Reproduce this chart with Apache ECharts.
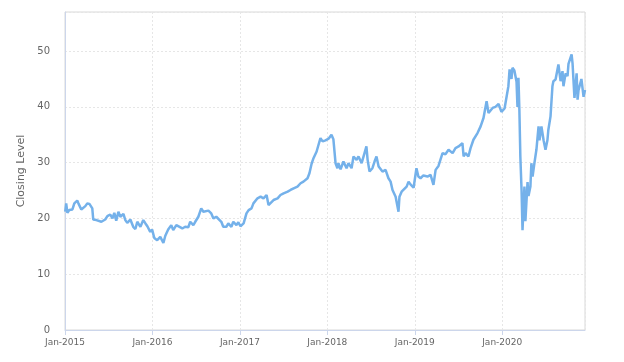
<!DOCTYPE html>
<html>
<head>
<meta charset="utf-8">
<script src="https://cdn.jsdelivr.net/npm/echarts@6/dist/echarts.min.js"></script>
<style>html,body{margin:0;padding:0;background:#fff}#c{width:624px;height:362px}</style>
</head>
<body>
<div id="c"></div>
<script>
var dates = [
"2015-01-02","2015-01-06","2015-01-11","2015-01-19","2015-02-01","2015-02-09","2015-02-21","2015-02-26","2015-03-10","2015-03-18","2015-03-27","2015-04-04","2015-04-13","2015-04-25","2015-04-29","2015-05-12","2015-05-20","2015-06-02","2015-06-10","2015-06-18","2015-06-27","2015-07-09","2015-07-18","2015-07-26","2015-08-03","2015-08-12","2015-08-20","2015-09-02","2015-09-10","2015-09-18","2015-10-01","2015-10-13","2015-10-22","2015-10-30","2015-11-12","2015-11-24","2015-12-03","2015-12-11","2015-12-23","2015-12-31",
"2016-01-09","2016-01-21","2016-02-03","2016-02-16","2016-02-24","2016-03-07","2016-03-20","2016-03-28","2016-04-10","2016-04-18","2016-05-05","2016-05-17","2016-05-30","2016-06-07","2016-06-20","2016-06-28","2016-07-11","2016-07-23","2016-08-01","2016-08-09","2016-08-22","2016-09-03","2016-09-12","2016-09-24","2016-10-02","2016-10-15","2016-10-23","2016-11-05","2016-11-13","2016-11-26","2016-12-04","2016-12-17","2016-12-25",
"2017-01-03","2017-01-16","2017-01-28","2017-02-06","2017-02-18","2017-02-26","2017-03-15","2017-03-28","2017-04-09","2017-04-22","2017-04-30","2017-05-08","2017-05-21","2017-06-07","2017-06-19","2017-07-02","2017-07-19","2017-07-31","2017-08-13","2017-08-29","2017-09-11","2017-09-23","2017-10-10","2017-10-18","2017-10-27","2017-11-04","2017-11-17","2017-11-25","2017-12-03","2017-12-12","2017-12-24",
"2018-01-06","2018-01-18","2018-01-26","2018-02-04","2018-02-12","2018-02-16","2018-02-25","2018-03-09","2018-03-22","2018-03-30","2018-04-12","2018-04-20","2018-05-03","2018-05-11","2018-05-24","2018-06-05","2018-06-13","2018-06-18","2018-06-26","2018-07-08","2018-07-17","2018-07-25","2018-08-03","2018-08-11","2018-08-19","2018-09-01","2018-09-13","2018-09-22","2018-09-30","2018-10-13","2018-10-25","2018-10-29","2018-11-07","2018-11-15","2018-11-28","2018-12-06","2018-12-14","2018-12-27",
"2019-01-08","2019-01-16","2019-01-25","2019-02-06","2019-02-23","2019-03-08","2019-03-20","2019-03-29","2019-04-10","2019-04-27","2019-05-09","2019-05-22","2019-06-08","2019-06-20","2019-07-03","2019-07-19","2019-07-24","2019-08-01","2019-08-13","2019-08-22","2019-09-03","2019-09-20","2019-10-03","2019-10-15","2019-10-28","2019-11-05","2019-11-22","2019-12-04","2019-12-17","2019-12-29",
"2020-01-11","2020-01-27","2020-02-01","2020-02-09","2020-02-13","2020-02-21","2020-03-01","2020-03-05","2020-03-09","2020-03-13","2020-03-17","2020-03-22","2020-03-26","2020-04-03","2020-04-07","2020-04-16","2020-04-20","2020-04-28","2020-05-02","2020-05-07","2020-05-15","2020-05-23","2020-06-01","2020-06-05","2020-06-13","2020-06-22","2020-06-30","2020-07-08","2020-07-12","2020-07-21","2020-07-29","2020-08-02","2020-08-11","2020-08-23","2020-09-01","2020-09-09","2020-09-13","2020-09-22","2020-09-30","2020-10-04","2020-10-17","2020-10-21","2020-10-29","2020-11-07","2020-11-11","2020-11-15","2020-11-27","2020-12-06","2020-12-12"
];
var closing = [
21.2,22.7,21.0,21.5,21.6,22.7,23.2,22.7,21.6,21.5,22.2,22.7,22.6,21.8,19.8,19.7,19.9,19.4,19.2,19.8,20.4,20.7,20.0,21.0,19.6,21.2,20.3,20.8,19.7,19.2,19.8,18.5,18.1,19.4,18.5,19.7,19.1,18.6,17.6,18.0,
16.5,16.1,16.7,15.6,16.9,18.0,18.8,17.9,18.8,19.1,18.2,18.5,18.4,19.4,18.8,19.4,20.3,21.8,21.2,21.5,21.4,20.9,20.0,20.3,20.0,19.4,18.5,18.5,19.1,18.5,19.4,18.8,19.3,
18.6,19.1,20.9,21.5,21.8,22.7,23.6,23.9,23.6,24.2,22.4,22.7,23.3,23.6,24.2,24.5,24.8,25.1,25.4,25.7,26.3,26.6,27.2,28.1,29.8,30.8,32.0,33.2,34.4,33.8,34.0,
34.3,35.0,34.2,29.9,29.0,29.9,28.8,30.2,29.0,29.9,29.0,31.1,30.5,31.1,29.9,31.7,32.9,30.5,28.4,29.0,30.2,31.1,29.3,29.6,28.4,28.7,27.2,26.6,25.1,23.9,21.2,23.9,24.8,25.1,25.7,26.6,26.1,25.5,
29.0,27.5,27.2,27.7,27.5,27.8,26.0,28.7,29.4,31.7,31.5,32.3,31.7,32.6,32.9,33.5,31.1,31.7,31.1,32.6,34.1,35.3,36.5,38.0,41.0,38.9,39.8,40.0,40.5,39.1,
39.7,43.7,46.7,45.0,47.0,46.5,44.5,40.0,45.2,39.3,31.0,25.1,17.9,25.7,19.5,26.5,24.0,25.7,29.9,27.5,30.0,32.3,36.5,34.0,36.5,34.0,32.3,34.0,35.9,38.3,43.7,44.6,44.9,47.6,44.6,46.4,43.7,46.0,45.5,47.7,49.4,47.8,41.6,46.0,41.3,43.0,45.0,41.8,43.0
];
var yTicks = [0, 10, 20, 30, 40, 50];
var yTitle = "Closing Level";

var DAY = 86400000;
var seriesData = dates.map(function (d, i) {
  var p = d.split('-');
  return [Date.UTC(+p[0], +p[1] - 1, +p[2]), closing[i]];
});
var chart = echarts.init(document.getElementById('c'), null, {renderer: 'canvas'});
var FONT = '"DejaVu Sans", Verdana, sans-serif';
chart.setOption({
  animation: false,
  grid: {left: 65, right: 39, top: 12, bottom: 32, show: true, borderColor: '#d8d8d8', borderWidth: 1},
  xAxis: {
    type: 'value',
    min: Date.UTC(2015, 0, 1),
    max: 'dataMax',
    interval: 365.25 * DAY,
    axisLine: {show: true, lineStyle: {color: '#ccd6eb'}},
    axisTick: {show: true, length: 5, lineStyle: {color: '#ccd6eb'}},
    axisLabel: {
      showMaxLabel: false,
      color: '#666', fontSize: 9, fontFamily: FONT, margin: 8,
      formatter: function (v) { var d = new Date(v + 10 * DAY); return 'Jan-' + d.getUTCFullYear(); }
    },
    splitLine: {show: true, lineStyle: {color: '#e6e6e6', type: [2, 2]}}
  },
  yAxis: {
    type: 'value',
    min: yTicks[0],
    max: 57,
    interval: 10,
    name: yTitle,
    nameLocation: 'middle',
    nameGap: 33,
    nameRotate: 90,
    nameTextStyle: {color: '#666', fontSize: 11, fontFamily: FONT},
    axisLine: {show: true, lineStyle: {color: '#ccd6eb'}},
    axisTick: {show: false},
    axisLabel: {
      showMaxLabel: false,
      color: '#666', fontSize: 10, fontFamily: FONT, margin: 15,
      formatter: function (v) { return yTicks.indexOf(v) >= 0 ? String(v) : ''; }
    },
    splitLine: {show: true, lineStyle: {color: '#e6e6e6', type: [2, 2]}}
  },
  series: [{
    type: 'line',
    data: seriesData,
    showSymbol: false,
    lineStyle: {color: '#74b1ea', width: 2.5},
    itemStyle: {color: '#74b1ea'}
  }]
});
</script>
</body>
</html>
